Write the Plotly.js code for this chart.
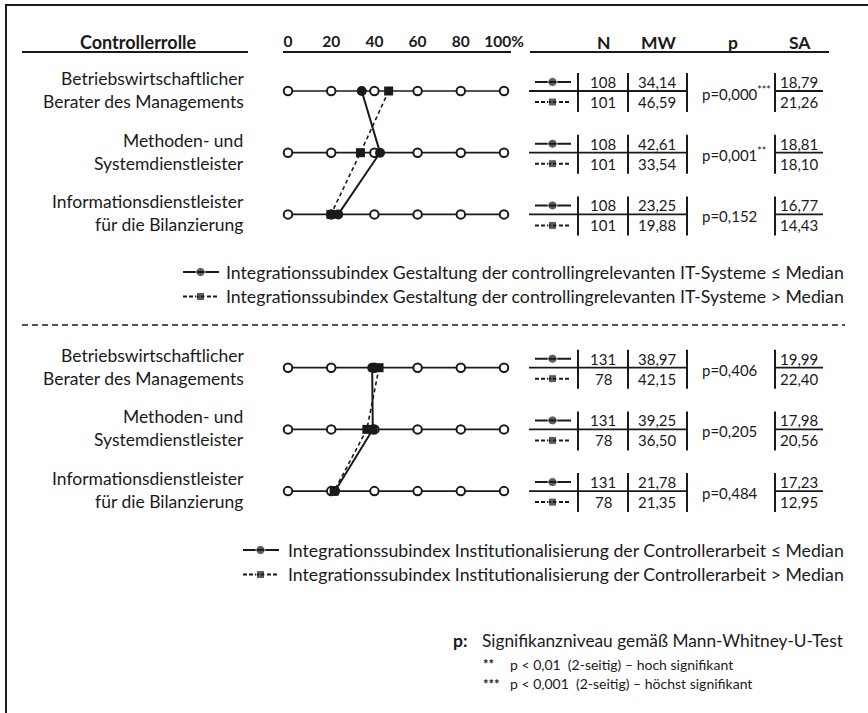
<!DOCTYPE html>
<html>
<head>
<meta charset="utf-8">
<script src="https://cdn.plot.ly/plotly-3.0.1.min.js"></script>
<style>html,body{margin:0;padding:0;background:#fff;}#chart{width:868px;height:713px;}</style>
</head>
<body>
<div id="chart"></div>
<script>
// ---------- data ----------
const scaleTicks = [0, 20, 40, 60, 80, 100];
const scaleLabels = ['0', '20', '40', '60', '80', '100%'];
const roles = ['Betriebswirtschaftlicher<br>Berater des Managements',
               'Methoden- und<br>Systemdienstleister',
               'Informationsdienstleister<br>für die Bilanzierung'];
const columnHeads = ['N', 'MW', 'p', 'SA'];

// Section 1: Gestaltung der controllingrelevanten IT-Systeme
const itLowN = [108, 108, 108];
const itHighN = [101, 101, 101];
const itLowMW = [34.14, 42.61, 23.25];
const itHighMW = [46.59, 33.54, 19.88];
const itP = ['0,000', '0,001', '0,152'];
const itSig = ['***', '**', ''];
const itLowSA = [18.79, 18.81, 16.77];
const itHighSA = [21.26, 18.10, 14.43];
const itLegend = ['Integrationssubindex Gestaltung der controllingrelevanten IT-Systeme ≤ Median',
                  'Integrationssubindex Gestaltung der controllingrelevanten IT-Systeme > Median'];

// Section 2: Institutionalisierung der Controllerarbeit
const instLowN = [131, 131, 131];
const instHighN = [78, 78, 78];
const instLowMW = [38.97, 39.25, 21.78];
const instHighMW = [42.15, 36.50, 21.35];
const instP = ['0,406', '0,205', '0,484'];
const instSig = ['', '', ''];
const instLowSA = [19.99, 17.98, 17.23];
const instHighSA = [22.40, 20.56, 12.95];
const instLegend = ['Integrationssubindex Institutionalisierung der Controllerarbeit ≤ Median',
                    'Integrationssubindex Institutionalisierung der Controllerarbeit > Median'];

const footHead = 'Signifikanzniveau gemäß Mann-Whitney-U-Test';
const footStars = ['**', '***'];
const footTexts = ['p < 0,01  (2-seitig) – hoch signifikant', 'p < 0,001  (2-seitig) – höchst signifikant'];

// ---------- layout helpers ----------
const W = 868, H = 713;
const FONT = 'Lato, "Open Sans", sans-serif';
const INK = '#1a1a1a';
const fmt = v => v.toFixed(2).replace('.', ',');
const rowGap = 61.7;
const sections = [
  {top: 91, low: itLowMW, high: itHighMW, lowN: itLowN, highN: itHighN, p: itP, sig: itSig,
   lowSA: itLowSA, highSA: itHighSA, legend: itLegend, legY: 272, legX: 183, legTextX: 224},
  {top: 367.7, low: instLowMW, high: instHighMW, lowN: instLowN, highN: instHighN, p: instP, sig: instSig,
   lowSA: instLowSA, highSA: instHighSA, legend: instLegend, legY: 550, legX: 243, legTextX: 286}
];

const traces = [];
const shapes = [];
const annotations = [];
const line = (x0, y0, x1, y1, w, dash) => shapes.push({type: 'line', xref: 'x2', yref: 'y', x0, y0, x1, y1,
  line: {color: INK, width: w || 1.6, dash: dash || 'solid'}});
const txt = (x, y, text, opts) => annotations.push(Object.assign({xref: 'x2', yref: 'y', x, y, text,
  showarrow: false, xanchor: 'center', yanchor: 'middle', font: {family: FONT, size: 15, color: INK}}, opts || {}));
const bold = size => ({family: FONT, size, color: INK, weight: 700});

// frame
line(5, 5, W, 5, 2);
line(6, 5, 6, H, 2);
// header
txt(138, 42, 'Controllerrolle', {font: bold(18)});
[603, 659, 733, 800].forEach((x, i) => txt(x, 42, columnHeads[i], {font: bold(17.5)}));
line(22, 52, 248, 52, 2);
line(283, 52, 511, 52, 2);
line(530, 52, 829, 52, 2);
// separator
line(22, 325, 845, 325, 1.5, '6px,4px');

// glyph helper (legend symbols drawn as small traces in pixel space)
function glyphs(xs, ys, dashed) {
  const gx = [], gy = [], gs = [];
  xs.forEach((x0, i) => {
    gx.push(x0, x0 + 17.5, x0 + 36, null);
    gy.push(ys[i], ys[i], ys[i], null);
    gs.push(0, dashed ? 8 : 9, 0, 0);
  });
  traces.push({type: 'scatter', mode: 'lines+markers', xaxis: 'x2', yaxis: 'y', x: gx, y: gy,
    line: {color: INK, width: 2, dash: dashed ? '4px,2px' : 'solid'},
    marker: {symbol: dashed ? 'square' : 'circle', size: gs, color: INK},
    hoverinfo: 'skip', showlegend: false, cliponaxis: false});
}

sections.forEach(sec => {
  const rows = roles.map((_, i) => sec.top + i * rowGap);
  // baseline scale per row
  rows.forEach(r => {
    traces.push({type: 'scatter', mode: 'lines+markers', x: scaleTicks, y: scaleTicks.map(() => r),
      line: {color: INK, width: 1.7}, marker: {symbol: 'circle', size: 8.5, color: '#fff', line: {color: INK, width: 2}},
      hoverinfo: 'skip', showlegend: false, cliponaxis: false});
  });
  // group profiles
  traces.push({type: 'scatter', mode: 'lines+markers', x: sec.high, y: rows,
    line: {color: INK, width: 1.6, dash: '4px,3px'}, marker: {symbol: 'square', size: 9, color: INK},
    showlegend: false, cliponaxis: false});
  traces.push({type: 'scatter', mode: 'lines+markers', x: sec.low, y: rows,
    line: {color: INK, width: 2}, marker: {symbol: 'circle', size: 10, color: INK},
    showlegend: false, cliponaxis: false});

  // row labels + table
  rows.forEach((r, i) => {
    txt(246, r - 1, roles[i], {xanchor: 'right', align: 'right', font: {family: FONT, size: 17.5, color: INK}});
    line(529, r, 687, r, 1.8);
    [578, 628, 687, 775].forEach(x => line(x, r - 18, x, r + 21, 2));
    line(775, r, 823, r, 1.8);
    txt(603, r - 9, String(sec.lowN[i]));
    txt(603, r + 11, String(sec.highN[i]));
    txt(657, r - 9, fmt(sec.low[i]));
    txt(657, r + 11, fmt(sec.high[i]));
    txt(799, r - 9, fmt(sec.lowSA[i]));
    txt(799, r + 11, fmt(sec.highSA[i]));
    const pt = 'p=' + sec.p[i] + (sec.sig[i] ? '<sup>' + sec.sig[i] + '</sup>' : '');
    txt(700, r + 2, pt, {xanchor: 'left'});
  });
  glyphs(rows.map(() => 535), rows.map(r => r - 9), false);
  glyphs(rows.map(() => 535), rows.map(r => r + 11), true);

  // legend
  glyphs([sec.legX], [sec.legY], false);
  glyphs([sec.legX], [sec.legY + 24.5], true);
  sec.legend.forEach((t, k) => txt(sec.legTextX, sec.legY + 24.5 * k, t,
    {xanchor: 'left', font: {family: FONT, size: 17.7, color: INK}}));
});

// footnote
txt(451, 640, 'p:', {xanchor: 'left', font: bold(17.5)});
txt(480, 640, footHead, {xanchor: 'left', font: {family: FONT, size: 17.3, color: INK}});
footStars.forEach((s, k) => {
  txt(481, 664 + 19.5 * k, s, {xanchor: 'left', font: bold(13)});
  txt(508, 664 + 19.5 * k, footTexts[k], {xanchor: 'left', font: {family: FONT, size: 14, color: INK}});
});

const layout = {
  width: W, height: H, margin: {l: 0, r: 0, t: 0, b: 0},
  paper_bgcolor: '#fff', plot_bgcolor: 'rgba(0,0,0,0)', showlegend: false,
  xaxis: {domain: [288 / W, 504 / W], range: [0, 100], side: 'top', anchor: 'free', position: 1 - 52 / H,
    tickvals: scaleTicks, ticktext: scaleLabels, ticks: '', showline: false, showgrid: false, zeroline: false,
    tickfont: bold(15.5), ticklabelstandoff: 2, fixedrange: true},
  xaxis2: {domain: [0, 1], range: [0, W], anchor: 'y', visible: false, fixedrange: true},
  yaxis: {domain: [0, 1], range: [H, 0], visible: false, fixedrange: true},
  shapes, annotations
};
Plotly.newPlot('chart', traces, layout, {displayModeBar: false, staticPlot: true});
</script>
</body>
</html>
